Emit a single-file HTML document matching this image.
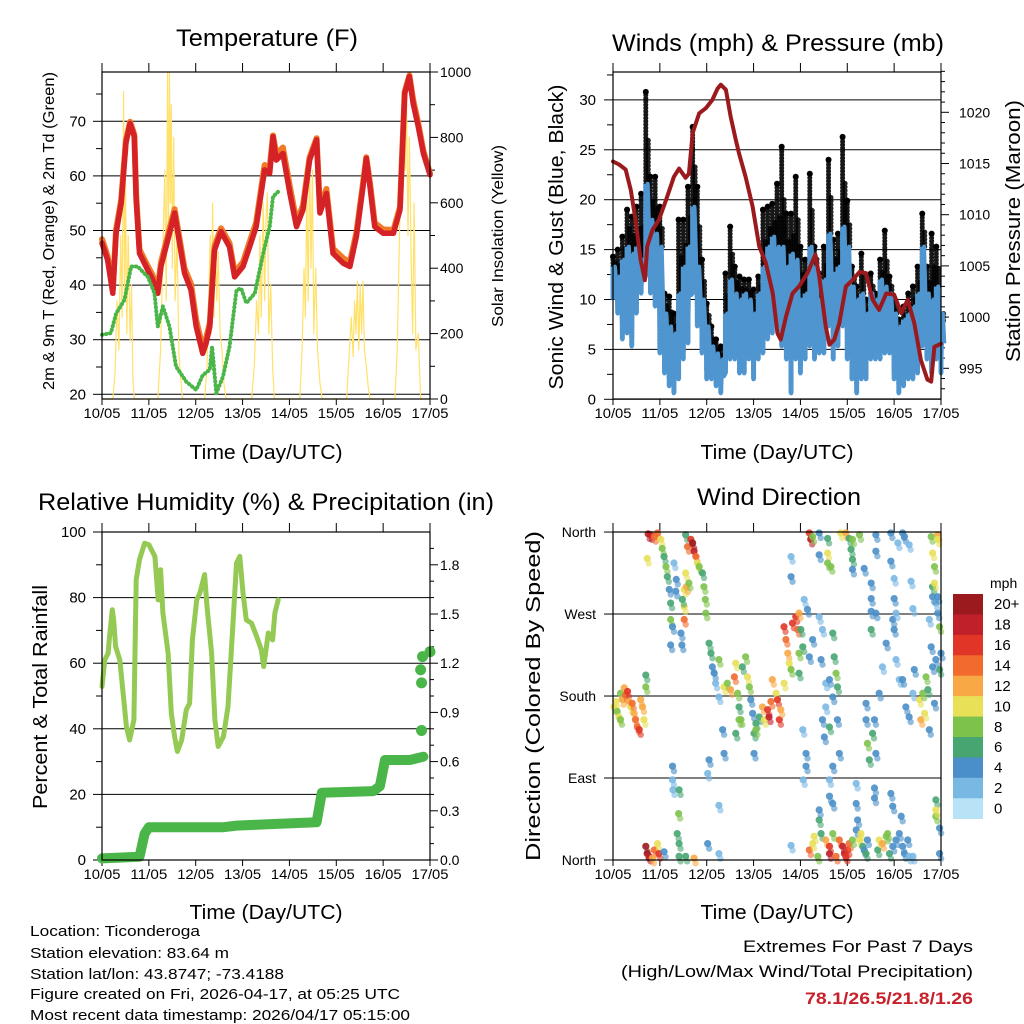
<!DOCTYPE html>
<html><head><meta charset="utf-8"><title>Station Meteogram - Ticonderoga</title>
<style>
html,body{margin:0;padding:0;background:#fff;}
svg{display:block;font-family:"Liberation Sans",sans-serif;}
</style></head>
<body>
<svg id="fig" width="1024" height="1024" viewBox="0 0 1024 1024">
<rect x="0" y="0" width="1024" height="1024" fill="#fff"/>
<g id="p1"></g>
<g id="p2"></g>
<g id="p3"></g>
<g id="p4"></g>

<text x="267" y="46" font-size="24" text-anchor="middle" textLength="182" lengthAdjust="spacingAndGlyphs">Temperature (F)</text>
<text x="778" y="51" font-size="24" text-anchor="middle" textLength="332" lengthAdjust="spacingAndGlyphs">Winds (mph) &amp; Pressure (mb)</text>
<text x="266" y="510" font-size="24" text-anchor="middle" textLength="456" lengthAdjust="spacingAndGlyphs">Relative Humidity (%) &amp; Precipitation (in)</text>
<text x="779" y="505" font-size="24" text-anchor="middle" textLength="164" lengthAdjust="spacingAndGlyphs">Wind Direction</text>

<text x="266" y="459" font-size="20" text-anchor="middle" textLength="153" lengthAdjust="spacingAndGlyphs">Time (Day/UTC)</text>
<text x="777" y="459" font-size="20" text-anchor="middle" textLength="153" lengthAdjust="spacingAndGlyphs">Time (Day/UTC)</text>
<text x="266" y="919" font-size="20" text-anchor="middle" textLength="153" lengthAdjust="spacingAndGlyphs">Time (Day/UTC)</text>
<text x="777" y="919" font-size="20" text-anchor="middle" textLength="153" lengthAdjust="spacingAndGlyphs">Time (Day/UTC)</text>

<text transform="translate(54,231) rotate(-90)" font-size="16" text-anchor="middle" textLength="318" lengthAdjust="spacingAndGlyphs">2m &amp; 9m T (Red, Orange) &amp; 2m Td (Green)</text>
<text transform="translate(503,236) rotate(-90)" font-size="16" text-anchor="middle" textLength="182" lengthAdjust="spacingAndGlyphs">Solar Insolation (Yellow)</text>
<text transform="translate(563,237) rotate(-90)" font-size="20" text-anchor="middle" textLength="305" lengthAdjust="spacingAndGlyphs">Sonic Wind &amp; Gust (Blue, Black)</text>
<text transform="translate(1020,231) rotate(-90)" font-size="20" text-anchor="middle" textLength="262" lengthAdjust="spacingAndGlyphs">Station Pressure (Maroon)</text>
<text transform="translate(47,697) rotate(-90)" font-size="20" text-anchor="middle" textLength="224" lengthAdjust="spacingAndGlyphs">Percent &amp; Total Rainfall</text>
<text transform="translate(540,696) rotate(-90)" font-size="20" text-anchor="middle" textLength="330" lengthAdjust="spacingAndGlyphs">Direction (Colored By Speed)</text>

<g font-size="15">
<text x="30" y="936" textLength="170" lengthAdjust="spacingAndGlyphs">Location: Ticonderoga</text>
<text x="30" y="958" textLength="199" lengthAdjust="spacingAndGlyphs">Station elevation: 83.64 m</text>
<text x="30" y="979" textLength="254" lengthAdjust="spacingAndGlyphs">Station lat/lon: 43.8747; -73.4188</text>
<text x="30" y="999" textLength="370" lengthAdjust="spacingAndGlyphs">Figure created on Fri, 2026-04-17, at 05:25 UTC</text>
<text x="30" y="1020" textLength="380" lengthAdjust="spacingAndGlyphs">Most recent data timestamp: 2026/04/17 05:15:00</text>
</g>
<g font-size="17" text-anchor="end">
<text x="973" y="952" textLength="230" lengthAdjust="spacingAndGlyphs">Extremes For Past 7 Days</text>
<text x="973" y="977" textLength="352" lengthAdjust="spacingAndGlyphs">(High/Low/Max Wind/Total Precipitation)</text>
<text x="973" y="1004" font-weight="bold" fill="#c8202a" textLength="168" lengthAdjust="spacingAndGlyphs">78.1/26.5/21.8/1.26</text>
</g>
</svg>

<script>
const dayLabels = ["10/05","11/05","12/05","13/05","14/05","15/05","16/05","17/05"];

const tempDay = [0,0.12,0.23,0.3,0.41,0.51,0.6,0.69,0.73,0.8,0.94,1.08,1.19,1.26,1.44,1.55,1.62,1.76,1.9,2.01,2.15,2.22,2.3,2.4,2.54,2.72,2.83,3.01,3.15,3.29,3.47,3.58,3.65,3.72,3.86,4.01,4.15,4.29,4.43,4.58,4.65,4.79,4.93,5.15,5.29,5.43,5.57,5.64,5.72,5.82,6.0,6.22,6.36,6.46,6.56,6.64,6.75,6.86,7.0];
const temp2m = [47.7,44.6,38.5,49.5,55,66,69.6,67.2,55.6,45.8,43.4,41,38.5,43.4,49.5,53.2,49.5,42.2,39.1,32.4,27.5,29.3,32.4,46.4,49.8,47,41.5,43.4,47,50.7,61.1,60.5,67.2,62.9,64.1,56.8,50.7,53.8,62.9,66.6,53.2,56.8,45.8,44,43.4,48.9,58,63.2,58,50.7,49.5,49.5,53.8,75.1,78.2,73.3,69,64.1,60.2];
const temp9m = [48.4,45.3,39.2,50.2,55.6,66.5,69.9,67.6,56.4,46.5,44.1,41.8,39.3,44.2,50.3,53.9,50.3,43.1,40.2,33.6,28.5,30.2,33.1,47.1,50.4,47.7,42.3,44.2,47.9,51.5,62,61.6,67.4,64,65.2,58,51.6,54.6,63.4,66.9,54.1,57.6,46.7,44.9,44.2,49.6,58.6,63.4,58.7,51.4,50.2,50.1,54.3,75.4,78.4,74,69.6,64.6,60.5];
const dewDay = [0,0.19,0.3,0.48,0.62,0.76,0.98,1.12,1.19,1.3,1.44,1.58,1.8,2.01,2.15,2.3,2.35,2.44,2.58,2.72,2.87,2.97,3.08,3.26,3.44,3.58,3.65,3.76];
const dewT = [30.9,31.2,34.8,37.3,43.4,43.4,41.5,38.5,32.4,36.1,32.4,25.1,22.3,20.8,23.5,24.5,28.7,20.2,23.2,28.7,39.1,39.4,36.7,38.5,45.8,50.7,56.2,57.1];
const solarDay = [0,0.23,0.28,0.32,0.36,0.4,0.43,0.46,0.48,0.5,0.53,0.56,0.6,0.63,0.66,0.69,
 1.19,1.25,1.3,1.34,1.37,1.4,1.42,1.44,1.46,1.48,1.5,1.53,1.56,1.6,1.64,1.68,1.72,
 2.19,2.24,2.28,2.31,2.33,2.36,2.39,2.42,2.45,2.48,2.52,2.56,2.6,2.65,
 3.19,3.25,3.3,3.34,3.37,3.4,3.44,3.47,3.5,3.53,3.56,3.6,3.64,3.68,
 4.22,4.27,4.31,4.34,4.37,4.4,4.43,4.46,4.49,4.52,4.56,4.6,4.65,4.7,
 5.22,5.28,5.32,5.36,5.39,5.42,5.45,5.48,5.51,5.54,5.57,5.6,5.64,5.68,5.72,
 6.25,6.3,6.35,6.38,6.41,6.44,6.47,6.5,6.53,6.56,6.6,6.63,6.66,6.7,6.75,6.8,7.0];
const solarVal = [0,0,80,300,150,500,250,940,300,700,200,500,180,350,60,0,
 0,150,450,700,300,1000,500,1000,600,900,400,800,300,500,150,60,0,
 0,100,300,500,200,600,250,480,300,450,200,150,50,0,
 0,100,300,200,500,250,600,300,550,630,200,350,100,0,
 0,150,400,250,650,300,750,400,700,200,400,150,50,0,
 0,150,250,130,300,200,360,150,350,200,360,150,100,40,0,
 0,150,500,800,600,940,700,900,500,800,400,200,600,150,200,0,0];

const windDay = [0,0.1,0.2,0.3,0.4,0.5,0.6,0.7,0.8,0.9,1.0,1.1,1.2,1.3,1.4,1.5,1.6,1.7,1.8,1.9,2.0,2.1,2.2,2.3,2.4,2.5,2.6,2.7,2.8,2.9,3.0,3.1,3.2,3.3,3.4,3.5,3.6,3.7,3.8,3.9,4.0,4.1,4.2,4.3,4.4,4.5,4.6,4.7,4.8,4.9,5.0,5.1,5.2,5.3,5.4,5.5,5.6,5.7,5.8,5.9,6.0,6.1,6.2,6.3,6.4,6.5,6.6,6.7,6.8,6.9,7.0];
const windHi = [13.3,12.3,14,15.3,14.6,15.3,14,21.6,18,16.6,15.3,8.6,7.3,6.6,10.6,13.3,15.3,19.3,13.3,10,7.3,5.3,4.6,4,8.6,12,10.6,10,10.6,10,8.6,10.6,13.3,15.3,16.3,15.3,15.3,13.3,14.6,14,10,10.6,15.3,13.3,10,12,16.6,12.6,13.3,17.3,15.3,11.3,10,10.6,8.6,10.6,10,12,11.3,10.6,8.6,7.3,8,8.6,9.3,10.6,15.3,10.6,10,11.3,8.6];
const windLo = [10,8.6,6,6.6,5.3,8.6,10.6,12.3,10.6,9.3,4.6,2.6,1.3,0.6,2,4,5.6,10.6,7.3,4.6,2,2,1.3,0.6,2.6,4,4,2.6,2.6,4,2,4,4.6,6,6.6,7.3,5.3,4,0.6,4,2.6,4,5.3,4,4.6,4.6,7.3,4,5.3,7.3,4,2,0.6,2,2,4,4,4,4.6,4.6,2,0.6,1.3,2,2,2.6,5.3,4,2.6,4,2.6];
const windGust = [14.3,15,16.3,19,18.3,19.3,20.6,30.8,22.3,22.3,19.3,10.6,10.3,8.6,18,18,21.3,27.3,21.3,14,9.6,7.3,6,5.3,12.6,17.3,13.3,12.3,12,12,11,12.3,19,19.3,19.6,21.6,25.3,18.6,18.6,22.3,15.3,14,22.6,15.3,12.6,15.3,24,16,16.6,26.3,19.9,13.3,11.3,14.6,10,12.6,10.6,14,16.9,12.3,10,8,9.3,10.6,11.3,13.3,18.6,13.3,16.6,15.3,6.6];
const presDay = [0,0.13,0.27,0.38,0.48,0.59,0.68,0.73,0.84,0.98,1.13,1.3,1.41,1.55,1.62,1.7,1.84,1.98,2.12,2.23,2.3,2.41,2.51,2.62,2.69,2.83,2.98,3.12,3.26,3.41,3.51,3.58,3.69,3.83,3.97,4.15,4.32,4.4,4.54,4.62,4.72,4.83,4.97,5.11,5.26,5.4,5.54,5.68,5.83,6.0,6.15,6.29,6.43,6.57,6.71,6.79,6.86,7.0];
const presMb = [1015.2,1014.9,1014.4,1012.4,1009.5,1005.6,1003.6,1006.9,1008.5,1009.5,1011.4,1013.7,1014.5,1013.6,1014,1018,1019.9,1020.4,1021.2,1022.3,1022.7,1022.2,1019.6,1017.3,1016,1013.7,1010.8,1006.9,1005.3,1002.3,998.4,997.8,1000,1002.3,1003,1004.3,1006.1,1004,999.1,997.3,997.8,999.4,1003,1003.6,1004.4,1004.3,1001.7,1000.7,1002.3,1002.2,1000.4,1001.7,999.4,995.8,993.9,993.7,997.1,997.4];

const rhDay = [0,0.06,0.13,0.16,0.22,0.25,0.29,0.38,0.45,0.52,0.59,0.68,0.73,0.8,0.91,1.0,1.13,1.2,1.25,1.3,1.41,1.48,1.55,1.61,1.7,1.8,1.87,1.93,2.02,2.09,2.19,2.24,2.34,2.41,2.48,2.59,2.69,2.8,2.87,2.94,3.01,3.08,3.19,3.3,3.4,3.45,3.55,3.64,3.69,3.76];
const rhVal = [52.9,61,63,68,76.3,73.2,65.1,61,50.9,40.7,36.6,42.7,85.5,91.6,96.6,96.1,92.6,79.3,88.5,75.3,63.1,44.8,37.6,33.1,36.6,45.8,47.8,67.1,79.3,81.4,87,77.3,63.1,42.7,34.6,37.6,46.8,73.2,90.5,92.6,81.4,73.2,72.2,68.2,64.1,59,69.2,67.1,75.3,79.3];
const rainDay = [0,0.8,0.91,1.0,2.59,2.87,3.72,4.58,4.69,5.79,5.93,6.04,6.57,6.86];
const rainIn = [0.01,0.02,0.16,0.2,0.2,0.21,0.22,0.23,0.41,0.42,0.45,0.61,0.61,0.63];
const rainDotDay = [6.82,6.82,6.8,6.84,7.0];
const rainDotIn = [0.79,1.08,1.16,1.24,1.27];

const dirDay = [0.02,0.06,0.09,0.13,0.16,0.2,0.24,0.27,0.31,0.34,0.38,0.41,0.45,0.48,0.52,0.56,0.59,0.63,0.66,0.7,0.7,0.16,
 0.75,0.8,0.88,0.95,1.02,1.05,1.09,1.13,1.16,1.2,1.23,1.23,1.27,1.23,1.34,1.3,1.35,0.73,1.55,
 1.59,1.66,1.7,1.73,1.77,1.8,1.84,1.55,1.52,1.52,1.52,1.48,1.57,1.62,1.91,1.94,1.97,1.98,1.45,1.47,
 0.7,0.73,0.77,0.88,0.95,0.98,1.09,0.84,
 1.27,1.28,1.41,1.4,1.37,1.41,1.41,1.55,1.73,1.27,
 2.05,2.09,2.12,2.16,2.19,2.26,2.37,2.44,2.51,2.59,2.62,2.66,2.69,2.73,2.76,2.83,2.87,2.91,2.94,2.98,2.05,2.02,2.34,2.37,3.01,2.62,2.69,2.26,
 3.05,3.12,3.19,3.23,3.3,3.33,3.37,3.4,3.48,3.51,3.55,3.58,3.65,3.01,3.05,
 3.65,3.69,3.73,3.76,3.8,3.83,3.9,3.94,3.97,4.01,3.97,4.05,3.97,4.08,4.15,3.8,3.8,
 4.19,4.26,4.4,4.44,4.47,4.54,4.62,4.69,4.72,4.76,4.79,4.69,4.54,4.47,4.51,4.62,4.79,4.83,4.69,4.62,4.12,4.12,4.05,4.06,
 5.4,5.43,5.47,5.54,5.58,5.61,5.68,5.4,5.51,5.61,5.75,5.83,5.97,6.0,6.04,6.11,6.18,6.25,6.32,6.4,6.43,6.54,6.57,6.61,6.65,6.68,6.72,6.75,6.79,6.82,6.89,6.97,7.0,6.97,6.93,6.89,6.82,6.75,6.86,
 4.19,4.22,4.26,4.4,4.4,4.58,4.58,4.58,4.65,4.86,4.97,5.04,5.08,5.11,5.11,5.11,5.26,5.61,5.61,5.93,5.93,6.08,6.18,6.22,6.32,6.79,6.82,6.86,6.93,6.93,6.82,6.93,6.86,6.36,6.4,6.0,6.0,5.36,5.51,5.51,5.51,6.04,
 4.19,4.26,4.29,4.37,4.4,4.44,4.54,4.62,4.62,4.69,4.76,4.83,4.9,4.94,4.97,5.01,5.04,5.11,5.19,5.22,5.26,5.29,5.33,5.36,5.4,5.43,5.65,5.68,5.75,5.83,5.86,5.9,5.97,6.04,6.11,6.15,6.18,6.22,6.29,6.32,6.4,6.89,6.89,6.89,6.97,6.97,5.93,5.97,5.58,5.58,5.19,5.19,4.62,4.69,4.4,3.8,2.02,2.26,2.26];
const dirDeg = [168,174,163,157,183,176,189,181,185,174,168,172,161,154,146,143,176,168,154,190,203,154,
 358,357,355,359,352,342,333,322,311,297,282,264,256,236,295,326,308,331,357,
 344,352,348,339,333,326,322,315,297,278,264,286,300,304,315,300,286,271,249,236,
 15,7,4,11,18,7,9,2,
 88,77,77,51,29,18,4,4,2,103,
 238,227,212,205,194,179,190,194,187,201,216,183,168,154,212,223,201,190,176,161,110,95,143,117,117,139,154,220,
 150,157,168,154,165,157,174,198,183,176,154,165,194,139,143,
 256,242,227,216,209,260,267,253,271,253,227,234,205,286,275,311,333,
 223,242,267,220,253,194,198,249,223,205,190,179,168,154,135,146,154,117,103,88,117,103,143,88,
 154,128,110,139,154,117,183,172,253,271,212,238,264,253,220,198,198,168,157,183,209,176,154,183,161,201,187,143,234,212,220,209,227,256,271,282,289,264,172,
 359,352,355,359,335,353,337,326,322,359,359,353,341,330,319,352,357,357,339,359,328,348,359,355,346,355,337,322,357,352,300,289,304,306,276,287,309,320,304,287,273,271,
 11,18,26,4,44,29,22,15,7,29,4,22,15,7,4,11,18,22,33,44,22,29,15,11,7,22,11,22,18,26,29,7,15,22,29,48,15,7,22,4,4,66,48,55,7,35,73,59,79,68,84,62,70,62,55,16,18,7,60];
const dirSpd = [9,10,8,9,7,12,11,14,16,12,10,13,12,13,14,15,11,12,9,7,6,7,
 18,17,14,13,9,7,5,7,6,4,6,7,4,4,4,2,4,10,6,
 13,15,19,17,14,10,8,9,10,9,13,5,11,8,6,7,7,7,3,4,
 19,19,17,14,10,16,4,12,
 1,2,5,7,6,5,5,6,12,4,
 5,6,4,3,2,1,10,7,12,13,9,8,6,7,5,7,10,8,4,4,3,2,4,3,3,5,8,7,
 6,5,12,10,15,17,13,11,9,16,15,11,9,6,7,
 15,13,12,10,8,16,15,14,12,6,8,6,6,2,3,3,1,
 4,3,2,4,2,2,3,5,6,7,6,4,2,3,4,5,4,4,3,2,4,4,1,1,
 4,7,6,5,4,3,3,4,6,4,1,3,3,3,2,1,4,3,4,2,3,9,12,8,10,7,6,4,4,3,3,5,4,7,4,2,3,2,3,
 15,17,8,4,4,6,9,7,7,10,12,6,5,6,4,8,7,3,3,4,3,2,4,3,2,7,9,8,12,9,5,4,10,2,1,3,1,3,3,3,3,2,
 13,10,9,7,6,6,12,16,18,8,13,14,17,18,16,15,13,8,4,3,9,10,6,4,5,3,6,9,12,8,8,5,4,3,4,4,3,4,3,2,1,6,7,9,4,3,4,4,3,4,1,3,3,4,4,1,3,2,1];
const speedColors = ["#b8e2f6","#7ab8e4","#4a8fc8","#47a572","#7dc24b","#e8e056","#f8a845","#f26a2e","#e03527","#c0202a","#9b1a1e"];
const speedLabels = ["0","2","4","6","8","10","12","14","16","18","20+"];

const NS = "http://www.w3.org/2000/svg";
function mk(tag, parent, attrs){
  const e = document.createElementNS(NS, tag);
  for (const k in attrs) e.setAttribute(k, attrs[k]);
  parent.appendChild(e);
  return e;
}
function poly(parent, xs, ys, fx, fy){
  return xs.map((d,i)=>fx(d).toFixed(1)+","+fy(ys[i]).toFixed(1)).join(" ");
}

const P1 = {x0:102,x1:430,y0:72,y1:399};
const P2 = {x0:613,x1:941,y0:72,y1:399};
const P3 = {x0:102,x1:430,y0:532,y1:860};
const P4 = {x0:613,x1:941,y0:532,y1:860};
const xs = P => d => P.x0 + d*(P.x1-P.x0)/7;

const x1 = xs(P1), x2 = xs(P2), x3 = xs(P3), x4 = xs(P4);
const tY = t => 394.3 - (t-20)*5.46;
const sY = v => 399 - v*0.327;
const wY = w => 399.3 - w*9.98;
const pY = p => 112.3 - (p-1020)*10.24;
const rY = r => 860 - r*3.28;
const qY = q => 860 - q*164;
const dY = d => 860 - d*0.911;

function frame(g, P, xf, name){
  dayLabels.forEach((lab,i)=>{
    const x = xf(i);
    const tk = mk("line", g, {x1:x,y1:P.y0-9,x2:x,y2:P.y0,stroke:"#000","stroke-width":1});
    
    
    const tb = mk("line", g, {x1:x,y1:P.y1,x2:x,y2:P.y1+6,stroke:"#000","stroke-width":1});
    
    
    const t = mk("text", g, {x:x,y:P.y1+19,"font-size":14,"text-anchor":"middle",textLength:37,lengthAdjust:"spacingAndGlyphs"});
    t.textContent = lab;
    
    
  });
}
function box(g, P, name){
  const r = mk("rect", g, {x:P.x0,y:P.y0,width:P.x1-P.x0,height:P.y1-P.y0,fill:"none",stroke:"#000","stroke-width":1.2});
  
  
}
function hgrid(g, P, y, name){
  const l = mk("line", g, {x1:P.x0,y1:y,x2:P.x1,y2:y,stroke:"#000","stroke-width":1});
  
  
}
function ylab(g, x, y, txt, anchor, name, size){
  const t = mk("text", g, {x:x,y:y+5,"font-size":size||15,"text-anchor":anchor});
  t.textContent = txt;
  
  
}
function ytick(g, x, y, len, name){
  const l = mk("line", g, {x1:x,y1:y,x2:x+len,y2:y,stroke:"#000","stroke-width":1});
  
  
}

// Panel 1
const g1 = document.getElementById("p1");
frame(g1, P1, x1, "temperature");
[20,30,40,50,60,70].forEach(t=>{ hgrid(g1,P1,tY(t),"temperature"); ylab(g1,86,tY(t),String(t),"end","temperature-y-tick-label"); ytick(g1,P1.x0-9,tY(t),9,"temperature-major-tick"); });
[25,35,45,55,65,75].forEach(t=>ytick(g1,P1.x0-6,tY(t),6,"temperature-minor-tick"));
[0,200,400,600,800,1000].forEach(v=>{ ylab(g1,440,sY(v),String(v),"start","solar-y-tick-label",14); ytick(g1,P1.x1,sY(v),8,"solar-major-tick"); });
[100,300,500,700,900].forEach(v=>ytick(g1,P1.x1,sY(v),5,"solar-minor-tick"));
const solar = mk("polyline", g1, {points:poly(g1,solarDay,solarVal,x1,sY),fill:"none",stroke:"#ffe16a","stroke-width":1.2,"stroke-linejoin":"round"});


const t9 = mk("polyline", g1, {points:poly(g1,tempDay,temp9m,x1,tY),fill:"none",stroke:"#f07a28","stroke-width":6,"stroke-linejoin":"round","stroke-linecap":"round"});


const t2 = mk("polyline", g1, {points:poly(g1,tempDay,temp2m,x1,tY),fill:"none",stroke:"#d42227","stroke-width":5.5,"stroke-linejoin":"round","stroke-linecap":"round"});


const dew = mk("polyline", g1, {points:poly(g1,dewDay,dewT,x1,tY),fill:"none",stroke:"#4ab548","stroke-width":4,"stroke-dasharray":"0.5 3.5","stroke-linecap":"round","stroke-linejoin":"round"});


box(g1, P1, "temperature");

// Panel 2
const g2 = document.getElementById("p2");
frame(g2, P2, x2, "winds");
[0,5,10,15,20,25,30].forEach(w=>{ hgrid(g2,P2,wY(w),"winds"); ylab(g2,596,wY(w),String(w),"end","wind-y-tick-label"); ytick(g2,P2.x0-9,wY(w),9,"wind-major-tick"); });
[2.5,7.5,12.5,17.5,22.5,27.5,32.5].forEach(w=>ytick(g2,P2.x0-6,wY(w),6,"wind-minor-tick"));
[995,1000,1005,1010,1015,1020].forEach(p=>{ ylab(g2,959,pY(p),String(p),"start","pressure-y-tick-label",14); ytick(g2,P2.x1,pY(p),8,"pressure-major-tick"); });
for (let p=993;p<=1024;p++){ if(p%5) ytick(g2,P2.x1,pY(p),4,"pressure-minor-tick"); }
windDay.forEach((d,i)=>{
  const x = x2(d);
  const gl = mk("line", g2, {x1:x,y1:wY(windLo[i]+1),x2:x,y2:wY(windGust[i]),stroke:"#000","stroke-width":5,"stroke-linecap":"round","stroke-dasharray":"0.1 3.2",opacity:0.9});
  
  
  const gl2 = mk("line", g2, {x1:x+2.5,y1:wY(windHi[i]),x2:x+2.5,y2:wY((windHi[i]+windGust[i])/2),stroke:"#000","stroke-width":5,"stroke-linecap":"round","stroke-dasharray":"0.1 3.5",opacity:0.85});
  
  
  const gd = mk("circle", g2, {cx:x,cy:wY(windGust[i]),r:3,fill:"#000"});
  
  
});
let zz = [];
windDay.forEach((d,i)=>{ zz.push(x2(d).toFixed(1)+","+wY(windLo[i]).toFixed(1)); zz.push(x2(d+0.04).toFixed(1)+","+wY(windHi[i]).toFixed(1)); zz.push(x2(d+0.07).toFixed(1)+","+wY((windLo[i]+windHi[i])/2).toFixed(1)); });
const wl = mk("polyline", g2, {points:zz.join(" "),fill:"none",stroke:"#4f95cf","stroke-width":4,"stroke-linejoin":"round"});


windDay.forEach((d,i)=>{
  const b = mk("line", g2, {x1:x2(d),y1:wY(windLo[i]),x2:x2(d),y2:wY(windHi[i]),stroke:"#4f95cf","stroke-width":5});
  
  
});
const pl = mk("polyline", g2, {points:poly(g2,presDay,presMb,x2,pY),fill:"none",stroke:"#9b1a1e","stroke-width":4,"stroke-linejoin":"round","stroke-linecap":"round"});


box(g2, P2, "winds");

// Panel 3
const g3 = document.getElementById("p3");
frame(g3, P3, x3, "humidity");
[20,40,60,80].forEach(r=>hgrid(g3,P3,rY(r),"humidity"));
[0,20,40,60,80,100].forEach(r=>{ ylab(g3,86,rY(r),String(r),"end","humidity-y-tick-label"); ytick(g3,P3.x0-9,rY(r),9,"humidity-major-tick"); });
[10,30,50,70,90].forEach(r=>ytick(g3,P3.x0-6,rY(r),6,"humidity-minor-tick"));
["0.0","0.3","0.6","0.9","1.2","1.5","1.8"].forEach(s=>{ const q=parseFloat(s); ylab(g3,440,qY(q),s,"start","precip-y-tick-label",14); ytick(g3,P3.x1,qY(q),8,"precip-major-tick"); });
for (let k=1;k<20;k++){ if(k%3) ytick(g3,P3.x1,qY(k*0.1),4,"precip-minor-tick"); }
const rh = mk("polyline", g3, {points:poly(g3,rhDay,rhVal,x3,rY),fill:"none",stroke:"#94c954","stroke-width":5,"stroke-linejoin":"round","stroke-linecap":"round"});


const rain = mk("polyline", g3, {points:poly(g3,rainDay,rainIn,x3,qY),fill:"none",stroke:"#4ab548","stroke-width":10,"stroke-linejoin":"round","stroke-linecap":"round"});


rainDotDay.forEach((d,i)=>{
  const c = mk("circle", g3, {cx:x3(d),cy:qY(rainDotIn[i]),r:5.5,fill:"#4ab548"});
  
  
});
box(g3, P3, "humidity");

// Panel 4
const g4 = document.getElementById("p4");
frame(g4, P4, x4, "direction");
const dirTicks = [[0,"North"],[90,"East"],[180,"South"],[270,"West"],[360,"North"]];
dirTicks.forEach(([d,lab])=>{ hgrid(g4,P4,dY(d),"direction"); ylab(g4,596,dY(d),lab,"end","direction-y-tick-label",14); ytick(g4,P4.x0-9,dY(d),9,"direction-major-tick"); });
dirDay.forEach((d,i)=>{
  const ci = Math.min(10, Math.round(dirSpd[i]/2));
  const y = dY(dirDeg[i]);
  const m = mk("circle", g4, {cx:x4(d),cy:y,r:3.6,fill:speedColors[ci],opacity:0.9});
  
  
  const m2 = mk("circle", g4, {cx:x4(d)+1.5,cy:y+5,r:3.2,fill:speedColors[ci],opacity:0.6});
  
  
});
box(g4, P4, "direction");

const cb = mk("g", document.getElementById("fig"), {});


const ct = mk("text", cb, {x:990,y:588,"font-size":14});
ct.textContent = "mph";


const cbH = (818.7-594)/11;
speedColors.slice().reverse().forEach((c,i)=>{
  const r = mk("rect", cb, {x:953,y:594+i*cbH,width:30,height:cbH+0.3,fill:c});
  
  
  const t = mk("text", cb, {x:994,y:594+i*cbH+cbH/2+5,"font-size":15});
  t.textContent = speedLabels[10-i];
  
  
});
</script>
</body></html>
